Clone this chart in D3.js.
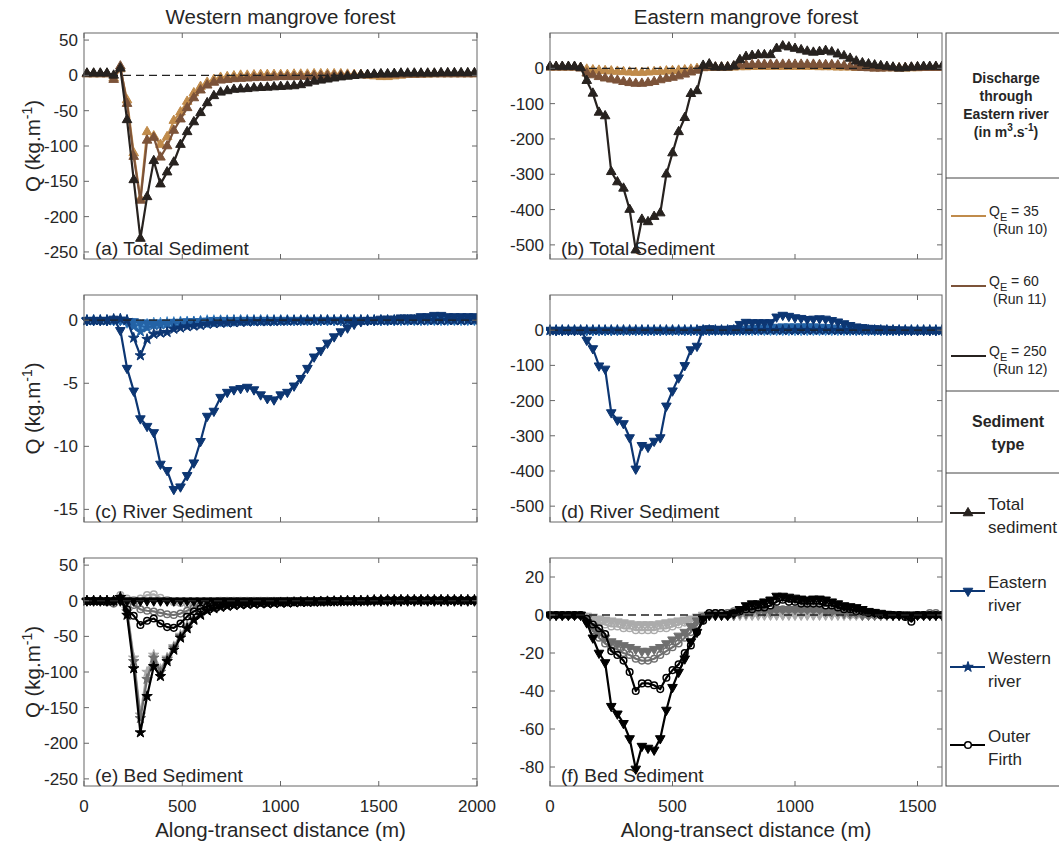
<!DOCTYPE html>
<html>
<head>
<meta charset="utf-8">
<script src="https://d3js.org/d3.v7.min.js"></script>
<style>
  body { margin: 0; background: #fff; }
  text { font-family: "Liberation Sans", Arial, sans-serif; fill: #262626; }
</style>
</head>
<body>
<svg width="1059" height="845"></svg>
<script>
// ---- sample positions along the transects (m) ----
const xWest = [15,49,83,117,151,185,219,253,287,321,355,389,423,457,491,525,559,593,627,661,695,729,763,797,831,865,899,933,967,1001,1035,1069,1103,1137,1171,1205,1239,1273,1307,1341,1375,1409,1443,1477,1511,1545,1579,1613,1647,1681,1715,1749,1783,1817,1851,1885,1919,1953,1987];
const xEast = [0,25,50,75,100,125,150,175,200,225,250,275,300,325,350,375,400,425,450,475,500,525,550,575,600,625,650,675,700,725,750,775,800,825,850,875,900,925,950,975,1000,1025,1050,1075,1100,1125,1150,1175,1200,1225,1250,1275,1300,1325,1350,1375,1400,1425,1450,1475,1500,1525,1550,1575,1600];

// ---- (a) total sediment, western forest ----
const aRun10 = [2,2,2,2,-4, 9,-35,-110,-175,-80,-86,-98,-87,-64,-52,-37,-25,-16,-10,-6,-3,-2,-1,0,0, 0.5,1,1,1,1,1,1.5,1.5,1.5,2,2,2,2,2,1.5,1,1,0,-1,-2, -2,-1,0,1,1,1.5,1.5,2,2,2,2,2,2,2];
const aRun11 = [2,2,2,2,-6, 13,-40,-115,-177,-92,-88,-116,-100,-78,-62,-46,-32,-21,-14,-10,-7,-6,-5,-4.5,-4, -3.5,-3,-3,-2.5,-2,-2,-2,-1.5,-1.5,-1,-1,-0.5,-0.5,0,0,0,0.5,0.5,1,1, 1,1,1.5,1.5,1.5,1.5,2,2,2,2,2,2,2,2];
const aRun12 = [3,3,3,3,0, 10,-63,-148,-231,-172,-121,-154,-137,-123,-98,-80,-66,-53,-39,-29,-24,-22,-20,-19.5,-19, -18,-17.5,-17,-16.5,-16,-15.5,-15,-13.5,-11,-8.5,-7,-5.5,-4,-2.5,-1.5,-0.5,0.5,1,1.5,2, 2,2.5,3,3,3,3,3,3,3.5,3.5,3.5,3.5,3.5,3.5];

// ---- (b) total sediment, eastern forest ----
const bRun10 = [3,3,3,3,3,2, -3,-5,-6,-7,-8,-9,-10,-11,-12,-12,-11,-10,-9,-8,-7,-6,-5,-3,-1,1, 2,2,2,2,3, 4,4,5,5,5,5,5,5,5,5,5,5,5,4,4,4,3,3,3,2, 2,2,1,1,1,1,0,0,1,1,2,2,2,2];
const bRun11 = [3,3,3,3,3,0, -14,-19,-24,-28,-31,-34,-38,-41,-43,-43,-41,-38,-33,-29,-26,-22,-17,-11,-6,2, 3,3,3,4,6, 8,10,10,11,11,11,11,11,11,11,11,11,11,10,10,10,9,7,5,3, 2,1,0,0,1,1,1,2,2,2,2,2,2,2];
const bRun12 = [5,5,5,5,5,2, -35,-71,-125,-135,-293,-322,-340,-400,-515,-428,-435,-420,-410,-300,-240,-180,-140,-72,-64,8, 12,3,3,3,6, 24,33,36,38,38,38,56,63,60,56,52,48,45,47,50,46,40,35,28,20, 15,12,9,7,5,3,0,1,3,4,5,5,5,5];

// ---- (c) river sediment, western forest ----
const cE35 = [0,0,0,0,0, 0,-0.2,-0.2,-0.3,-0.3,-0.3,-0.3,-0.3,-0.3,-0.3,-0.25,-0.2,-0.2,-0.15,-0.1,-0.1,-0.1,-0.05,0,0, 0,0,0,0,0,0,0,0,0,0,0,0,0,0,0,0,0,0,0,0, 0,0,0,0,0,0,0,0,0,0,0,0,0,0];
const cE60 = [0,0,0,0,0, 0,-0.1,-0.1,-0.2,-0.2,-0.2,-0.2,-0.2,-0.15,-0.15,-0.1,-0.1,-0.1,-0.05,0,0,0,0,0,0, 0,0,0,0,0,0,0,0,0,0,0,0,0,0,0,0,0,0,0,0, 0,0,0.05,0.05,0.05,0.05,0.1,0.1,0.1,0.1,0.1,0.1,0.1,0.1];
const cE250 = [0,0,0,0,0.1, -0.8,-3.8,-5.6,-7.8,-8.4,-8.9,-11.4,-11.9,-13.4,-13.2,-12.3,-11.3,-9.6,-7.6,-7.2,-6.1,-5.7,-5.5,-5.4,-5.3, -5.5,-5.9,-6.2,-6.3,-5.9,-5.7,-5.2,-4.6,-3.8,-2.9,-2.4,-1.8,-1.3,-0.9,-0.6,-0.3,-0.1,0,0,0.1, 0.1,0.1,0.2,0.2,0.2,0.3,0.3,0.4,0.4,0.3,0.3,0.3,0.3,0.3];
const cW35 = [0,0,0,0,0, 0,0,-0.3,-0.4,-0.3,-0.2,-0.2,-0.15,-0.15,-0.1,-0.1,-0.1,-0.05,0,0,0,0,0,0,0, 0,0,0,0,0,0,0,0,0,0,0,0,0,0,0,0,0,0,0,0, 0,0,0,0,0,0,0,0,0,0,0,0,0,0];
const cW60 = [0,0,0,0,0, 0.1,0,-0.5,-0.9,-0.6,-0.4,-0.35,-0.3,-0.25,-0.2,-0.2,-0.15,-0.1,-0.1,-0.1,-0.05,-0.05,0,0,0, 0,0,0,0,0,0,0,0,0,0,0,0,0,0,0,0,0,0,0,0, 0,0,0,0,0,0,0,0,0,0,0,0,0,0];
const cW250 = [0,0,0,0,0.1, 0.1,0,-1.4,-2.8,-1.5,-1.1,-1.0,-0.95,-0.7,-0.6,-0.5,-0.45,-0.4,-0.3,-0.26,-0.22,-0.2,-0.18,-0.15,-0.13, -0.1,-0.1,-0.1,-0.08,-0.06,-0.05,-0.04,-0.03,-0.02,0,0,0,0,0,0,0,0,0,0,0, 0,0,0,0,0,0,0,0,0,0,0,0,0,0];

// ---- (d) river sediment, eastern forest ----
const dE35 = [0,0,0,0,0,0, 0,0,0,0,0,0,0,0,0,0,0,0,0,0,0,0,0,0,0,0, 0,0,0,0,0, 0,0,0,0,0,0,0,0,0,0,0,0,0,0,0,0,0,0,0,0, 0,0,0,0,0,0,0,0,0,0,0,0,0,0];
const dE60 = [0,0,0,0,0,0, 0,0,0,0,0,0,0,0,0,0,0,0,0,0,0,0,0,0,0,0, 0,0,0,0,0, 2,4,5,6,7,8,9,10,10,10,10,10,10,9,8,7,5,4,2,1, 0,0,0,0,0,0,0,0,0,0,0,0,0,0];
const dE250 = [0,0,0,0,0,0, -28,-52,-101,-110,-234,-255,-265,-305,-394,-327,-332,-315,-305,-215,-172,-135,-100,-55,-45,3, 5,3,3,3,5, 17,23,22,22,22,22,38,43,40,36,34,31,32,33,32,28,24,19,14,10, 8,6,5,4,3,2,1,1,0,0,0,0,0,0];
const dW35 = [0,0,0,0,0,0, 0,0,0,0,0,0,0,0,0,0,0,0,0,0,0,0,0,0,0,0, 0,0,0,0,0, 0,0,0,0,0,0,0,0,0,0,0,0,0,0,0,0,0,0,0,0, 0,0,0,0,0,0,0,0,0,0,0,0,0,0];
const dW250 = [0,0,0,0,0,0, 0,0,0,0,0,0,0,0,0,0,0,0,0,0,0,0,0,0,0,0, 0,0,0,0,0, 0,0,0,0,0,0,0,0,0,0,0,0,0,0,0,0,0,0,0,0, 0,0,0,0,0,0,0,0,0,0,0,0,0,0];

// ---- (e) bed sediment, western forest ----
const eO35 = [0,0,0,-1,-2, 8,3,1,3,8,9,4,1,-2,-3,-4,-3,-2,-1,-1,0,0,0,0,0, 0,0,0,0,0,0,0,0,0,0,0,0,0,0,0,0,0,0,0,0.5, 1,1,1,1,1,1,1,1,1,1,1,1,1,1];
const eW35 = [0,0,0,0,0, 4,-12,-80,-160,-100,-76,-96,-80,-64,-48,-35,-25,-18,-12,-9,-7,-6,-5,-4.5,-4, -3.5,-3,-3,-2.5,-2.5,-2,-2,-1.5,-1.5,-1,-1,-0.5,-0.5,0,0,0,0,0,0.5,0.5, 1,1,1,1,1,1,1,1,1,1,1,1,1,1];
const eO60 = [0,0,0,-2,-4, 4,0,-6,-12,-14,-15,-17,-19,-20,-18,-14,-10,-7,-5,-4,-3,-2.5,-2,-2,-1.5, -1.5,-1,-1,-1,-0.5,-0.5,0,0,0,0,0,0,0,0,0,0,0,0,0.5,0.5, 1,1,1,1,1,1,1,1,1,1,1,1,1,1];
const eW60 = [0,0,0,0,0, 5,-15,-85,-165,-110,-80,-100,-82,-66,-50,-37,-26,-19,-13,-10,-8,-7,-6,-5,-4.5, -4,-3.5,-3.5,-3,-2.5,-2.5,-2,-2,-1.5,-1.5,-1,-1,-0.5,-0.5,0,0,0,0,0.5,0.5, 1,1,1,1,1,1,1,1,1,1,1,1,1,1];
const eE250 = [0,0,0,0,0, 0,0,0,0,0,0,0,0,0,0,0,0,0,0,0,0,0,0,0,0, 0,0,0,0,0,0,0,0,0,0,0,0,0,0,0,0,0,0,0,0, 0,0,0,0,0,0,0,0,0,0,0,0,0,0];
const eO250 = [0,0,0,0,0, 2,-12,-21,-34,-28,-25,-32,-37,-38,-32,-22,-15,-11,-8,-6,-5,-4,-3.5,-3,-3, -2.5,-2.5,-2,-2,-2,-1.5,-1.5,-1,-1,-1,-0.5,-0.5,0,0,0,0,0,0,0.5,0.5, 1,1,1,1,1,1,1,1,1,1,1,1,1,1];
const eW250 = [0,0,0,0,0, 5,-20,-95,-185,-134,-92,-106,-85,-69,-52,-39,-27,-20,-14,-11,-9,-7.5,-6.5,-5.5,-5, -4.5,-4,-4,-3.5,-3,-3,-2.5,-2,-2,-1.5,-1.5,-1,-1,-0.5,0,0,0,0.5,1,1, 1,1,1,1,1,1,1,1,1,1,1,1,1,1];

// ---- (f) bed sediment, eastern forest ----
const fE35 = [0,0,0,0,0,0, -0.5,-1,-2,-2.5,-3,-3.5,-4,-4.5,-5,-5,-5,-5,-4.5,-4,-3.5,-3,-2.5,-2,-1,0, 0,0,0,0,0, 0,0,0,0,0,0,0,0,0,0,0,0,0,0,0,0,0,0,0,0, 0,0,0,0,0,0,0,0,0,0,0,0,0,0];
const fO35 = [0,0,0,0,0,0, -1,-3,-4,-5,-6,-6,-7,-7,-8,-8,-8,-8,-7,-7,-6,-5,-4,-3,-2,-1, 0,0,1,1,1, 1,1,1,1,1,1,1,1,1,1,1,1,1,1,1,1,1,1,0,0, 0,0,0,0,0,0,0,0,0,0,0,0,0,0];
const fE60 = [0,0,0,0,0,0, -2,-6,-9,-12,-14,-15,-16,-17,-18,-19,-19,-18,-17,-15,-13,-11,-9,-6,-3,-1, 0,0,0,0,0, 1,1,2,2,2,2,3,3,3,3,3,3,3,3,2,2,2,1,1,1, 0,0,0,0,0,0,0,0,0,0,0,0,0,0];
const fO60 = [0,0,0,0,0,0, -3,-8,-12,-15,-17,-18,-20,-21,-23,-24,-24,-23,-21,-19,-17,-15,-12,-9,-5,-1, 0,1,1,1,2, 2,2,3,3,3,3,3,3,3,3,3,3,3,3,3,2,2,2,1,1, 1,0,0,0,0,0,0,0,-1,0,0,1,1,0];
const fO250 = [0,0,0,0,0,0, -2,-5,-7,-10,-19,-21,-24,-30,-40,-36,-36,-37,-39,-33,-29,-26,-20,-16,-9,-3, 1,1,1,0,1, 2,3,3,4,4,5,7,8,7,7,6,6,6,6,5,5,4,3,3,2, 2,1,1,0,0,0,0,-1,-3.5,0,0,0,0,0];
const fE250 = [0,0,0,0,0,0, -4,-12,-20,-25,-48,-52,-57,-65,-81,-69,-70,-71,-65,-50,-38,-30,-23,-14,-9,-2, 0,0,0,0,1, 3,5,6,6,7,8,10,10,9.5,9,8.5,8,8.5,8.5,8,7,6,5,4.5,4, 3,2,1.5,1,0.5,0,0,0,0,0,0,0,0,0];

// ---- ticks and labels ----
const xTicksWest = [0, 500, 1000, 1500, 2000];
const xTicksEast = [0, 500, 1000, 1500];
const yTicksTotalW = [50, 0, -50, -100, -150, -200, -250];
const yTicksTotalE = [0, -100, -200, -300, -400, -500];
const yTicksRiverW = [0, -5, -10, -15];
const yTicksBedE = [20, 0, -20, -40, -60, -80];
const panelLabels = ['(a) Total Sediment', '(b) Total Sediment', '(c) River Sediment',
                     '(d) River Sediment', '(e) Bed Sediment', '(f) Bed Sediment'];
const columnTitles = ['Western mangrove forest', 'Eastern mangrove forest'];
const runLabels = [['35', '(Run 10)'], ['60', '(Run 11)'], ['250', '(Run 12)']];
const typeLabels = [['Total', 'sediment'], ['Eastern', 'river'], ['Western', 'river'], ['Outer', 'Firth']];

// ---- styling ----
const tan = '#c08b4b', brown = '#7c5339', dark = '#27221f';
const lblue = '#4a92d2', mblue = '#2463a6', navy = '#0c3673';
const lgrey = '#ababab', mgrey = '#6f6f6f', black = '#000000';

const colX = [[84, 477], [550, 942]];
const rowY = [[33, 259], [295, 522], [558, 786]];

const panels = [
  {r: 0, c: 0, xs: xWest, xd: [0, 2000], yd: [-260, 60], yt: yTicksTotalW, xt: xTicksWest,
   s: [[aRun10, tan, 'up'], [aRun11, brown, 'up'], [aRun12, dark, 'up']]},
  {r: 0, c: 1, xs: xEast, xd: [0, 1600], yd: [-540, 100], yt: yTicksTotalE, xt: xTicksEast,
   s: [[bRun10, tan, 'up'], [bRun11, brown, 'up'], [bRun12, dark, 'up']]},
  {r: 1, c: 0, xs: xWest, xd: [0, 2000], yd: [-16, 2], yt: yTicksRiverW, xt: xTicksWest,
   s: [[cW35, lblue, 'star'], [cE35, lblue, 'down'], [cW60, mblue, 'star'], [cE60, mblue, 'down'],
       [cW250, navy, 'star'], [cE250, navy, 'down']]},
  {r: 1, c: 1, xs: xEast, xd: [0, 1600], yd: [-545, 100], yt: yTicksTotalE, xt: xTicksEast,
   s: [[dW35, lblue, 'star'], [dE35, lblue, 'down'], [dE60, mblue, 'down'],
       [dW250, navy, 'star'], [dE250, navy, 'down']]},
  {r: 2, c: 0, xs: xWest, xd: [0, 2000], yd: [-260, 60], yt: yTicksTotalW, xt: xTicksWest,
   s: [[eO35, lgrey, 'circ'], [eW35, lgrey, 'star'], [eO60, mgrey, 'circ'], [eW60, mgrey, 'star'],
       [eE250, black, 'down'], [eO250, black, 'circ'], [eW250, black, 'star']]},
  {r: 2, c: 1, xs: xEast, xd: [0, 1600], yd: [-90, 30], yt: yTicksBedE, xt: xTicksEast,
   s: [[fE35, lgrey, 'down'], [fO35, lgrey, 'circ'], [fE60, mgrey, 'down'], [fO60, mgrey, 'circ'],
       [fO250, black, 'circ'], [fE250, black, 'down']]}
];

const svg = d3.select('svg');

function drawMarker(g, type, color, x, y, face) {
  if (type === 'circ') {
    g.append('circle').attr('cx', x).attr('cy', y).attr('r', 3.3)
      .attr('fill', face || 'none').attr('stroke', color).attr('stroke-width', 1.5);
    return;
  }
  const sym = type === 'star' ? d3.symbolStar : d3.symbolTriangle;
  const size = type === 'star' ? 34 : 40;
  const rot = type === 'down' ? 180 : 0;
  g.append('path').attr('d', d3.symbol(sym, size)())
    .attr('transform', `translate(${x},${y}) rotate(${rot})`)
    .attr('fill', color).attr('stroke', color).attr('stroke-width', 1)
    .attr('stroke-linejoin', 'round');
}

panels.forEach((p, i) => {
  const [x0, x1] = colX[p.c];
  const [y0, y1] = rowY[p.r];
  const x = d3.scaleLinear().domain(p.xd).range([x0, x1]);
  const y = d3.scaleLinear().domain(p.yd).range([y1, y0]);
  const g = svg.append('g');

  g.append('clipPath').attr('id', 'clip' + i)
    .append('rect').attr('x', x0 - 4).attr('y', y0).attr('width', x1 - x0 + 4).attr('height', y1 - y0);

  const plot = g.append('g').attr('clip-path', `url(#clip${i})`);
  const line = d3.line().x((d, j) => x(p.xs[j])).y(d => y(d));

  p.s.forEach(([vals, color, mk]) => {
    const sg = plot.append('g');
    sg.append('path').datum(vals).attr('d', line)
      .attr('fill', 'none').attr('stroke', color).attr('stroke-width', 2.2)
      .attr('stroke-linejoin', 'round');
    vals.forEach((v, j) => drawMarker(sg, mk, color, x(p.xs[j]), y(v)));
  });

  // zero reference line
  plot.append('line').attr('x1', x0).attr('x2', x1).attr('y1', y(0)).attr('y2', y(0))
    .attr('stroke', '#222').attr('stroke-width', 1.3).attr('stroke-dasharray', '8,5');

  // box and inward ticks
  g.append('rect').attr('x', x0).attr('y', y0).attr('width', x1 - x0).attr('height', y1 - y0)
    .attr('fill', 'none').attr('stroke', '#666').attr('stroke-width', 1);
  p.xt.forEach(t => {
    g.append('line').attr('x1', x(t)).attr('x2', x(t)).attr('y1', y1).attr('y2', y1 - 5).attr('stroke', '#666');
    g.append('line').attr('x1', x(t)).attr('x2', x(t)).attr('y1', y0).attr('y2', y0 + 5).attr('stroke', '#666');
    if (p.r === 2) {
      g.append('text').attr('x', x(t)).attr('y', y1 + 26).attr('text-anchor', 'middle')
        .style('font-size', '17px').text(t);
    }
  });
  p.yt.forEach(t => {
    g.append('line').attr('x1', x0).attr('x2', x0 + 5).attr('y1', y(t)).attr('y2', y(t)).attr('stroke', '#666');
    g.append('line').attr('x1', x1).attr('x2', x1 - 5).attr('y1', y(t)).attr('y2', y(t)).attr('stroke', '#666');
    g.append('text').attr('x', x0 - 6).attr('y', y(t) + 6).attr('text-anchor', 'end')
      .style('font-size', '17px').text(t);
  });

  g.append('text').attr('x', x0 + 11).attr('y', y1 - 4).style('font-size', '19px').text(panelLabels[i]);

  if (p.c === 0) {
    const t = g.append('text')
      .attr('transform', `translate(40,${(y0 + y1) / 2}) rotate(-90)`)
      .attr('text-anchor', 'middle').style('font-size', '20.5px');
    t.append('tspan').text('Q (kg.m');
    t.append('tspan').attr('dy', -8).style('font-size', '14px').text('-1');
    t.append('tspan').attr('dy', 8).text(')');
  }
  if (p.r === 0) {
    svg.append('text').attr('x', (x0 + x1) / 2).attr('y', 24).attr('text-anchor', 'middle')
      .style('font-size', '20.5px').text(columnTitles[p.c]);
  }
  if (p.r === 2) {
    svg.append('text').attr('x', (x0 + x1) / 2).attr('y', 837).attr('text-anchor', 'middle')
      .style('font-size', '20.5px').text('Along-transect distance (m)');
  }
});

// ---- legend panel ----
const lg = svg.append('g');
lg.append('rect').attr('x', 946).attr('y', 33).attr('width', 140).attr('height', 753)
  .attr('fill', 'none').attr('stroke', '#444').attr('stroke-width', 1);
[178, 391, 473].forEach(yy => lg.append('line').attr('x1', 946).attr('x2', 1059)
  .attr('y1', yy).attr('y2', yy).attr('stroke', '#444'));

const head = ['Discharge', 'through', 'Eastern river'];
const headY = [83, 101, 119];
head.forEach((h, i) => lg.append('text').attr('x', 1006).attr('y', headY[i])
  .attr('text-anchor', 'middle').style('font-size', '14px').style('font-weight', 'bold').text(h));
const unit = lg.append('text').attr('x', 1006).attr('y', 137).attr('text-anchor', 'middle')
  .style('font-size', '14px').style('font-weight', 'bold');
unit.append('tspan').text('(in m');
unit.append('tspan').attr('dy', -6).style('font-size', '10px').text('3');
unit.append('tspan').attr('dy', 6).text('.s');
unit.append('tspan').attr('dy', -6).style('font-size', '10px').text('-1');
unit.append('tspan').attr('dy', 6).text(')');

const runColors = [tan, brown, dark];
const runY = [216, 286, 356];
runLabels.forEach(([q, run], i) => {
  lg.append('line').attr('x1', 951).attr('x2', 986).attr('y1', runY[i]).attr('y2', runY[i])
    .attr('stroke', runColors[i]).attr('stroke-width', 2);
  const t = lg.append('text').attr('x', 989).attr('y', runY[i]).style('font-size', '14px');
  t.append('tspan').text('Q');
  t.append('tspan').attr('dy', 5).style('font-size', '11px').text('E');
  t.append('tspan').attr('dy', -5).text(' = ' + q);
  lg.append('text').attr('x', 993).attr('y', runY[i] + 18).style('font-size', '14px').text(run);
});

lg.append('text').attr('x', 1008).attr('y', 427).attr('text-anchor', 'middle')
  .style('font-size', '16px').style('font-weight', 'bold').text('Sediment');
lg.append('text').attr('x', 1008).attr('y', 450).attr('text-anchor', 'middle')
  .style('font-size', '16px').style('font-weight', 'bold').text('type');

const typeMarks = [[dark, 'up'], [navy, 'down'], [navy, 'star'], [black, 'circ']];
const typeY = [513, 591, 667, 745];
typeLabels.forEach(([l1, l2], i) => {
  const [color, mk] = typeMarks[i];
  lg.append('line').attr('x1', 950).attr('x2', 985).attr('y1', typeY[i]).attr('y2', typeY[i])
    .attr('stroke', color).attr('stroke-width', 2);
  drawMarker(lg, mk, color, 968, typeY[i], '#fff');
  lg.append('text').attr('x', 988).attr('y', typeY[i] - 3).style('font-size', '17px').text(l1);
  lg.append('text').attr('x', 988).attr('y', typeY[i] + 20).style('font-size', '17px').text(l2);
});
</script>
</body>
</html>
